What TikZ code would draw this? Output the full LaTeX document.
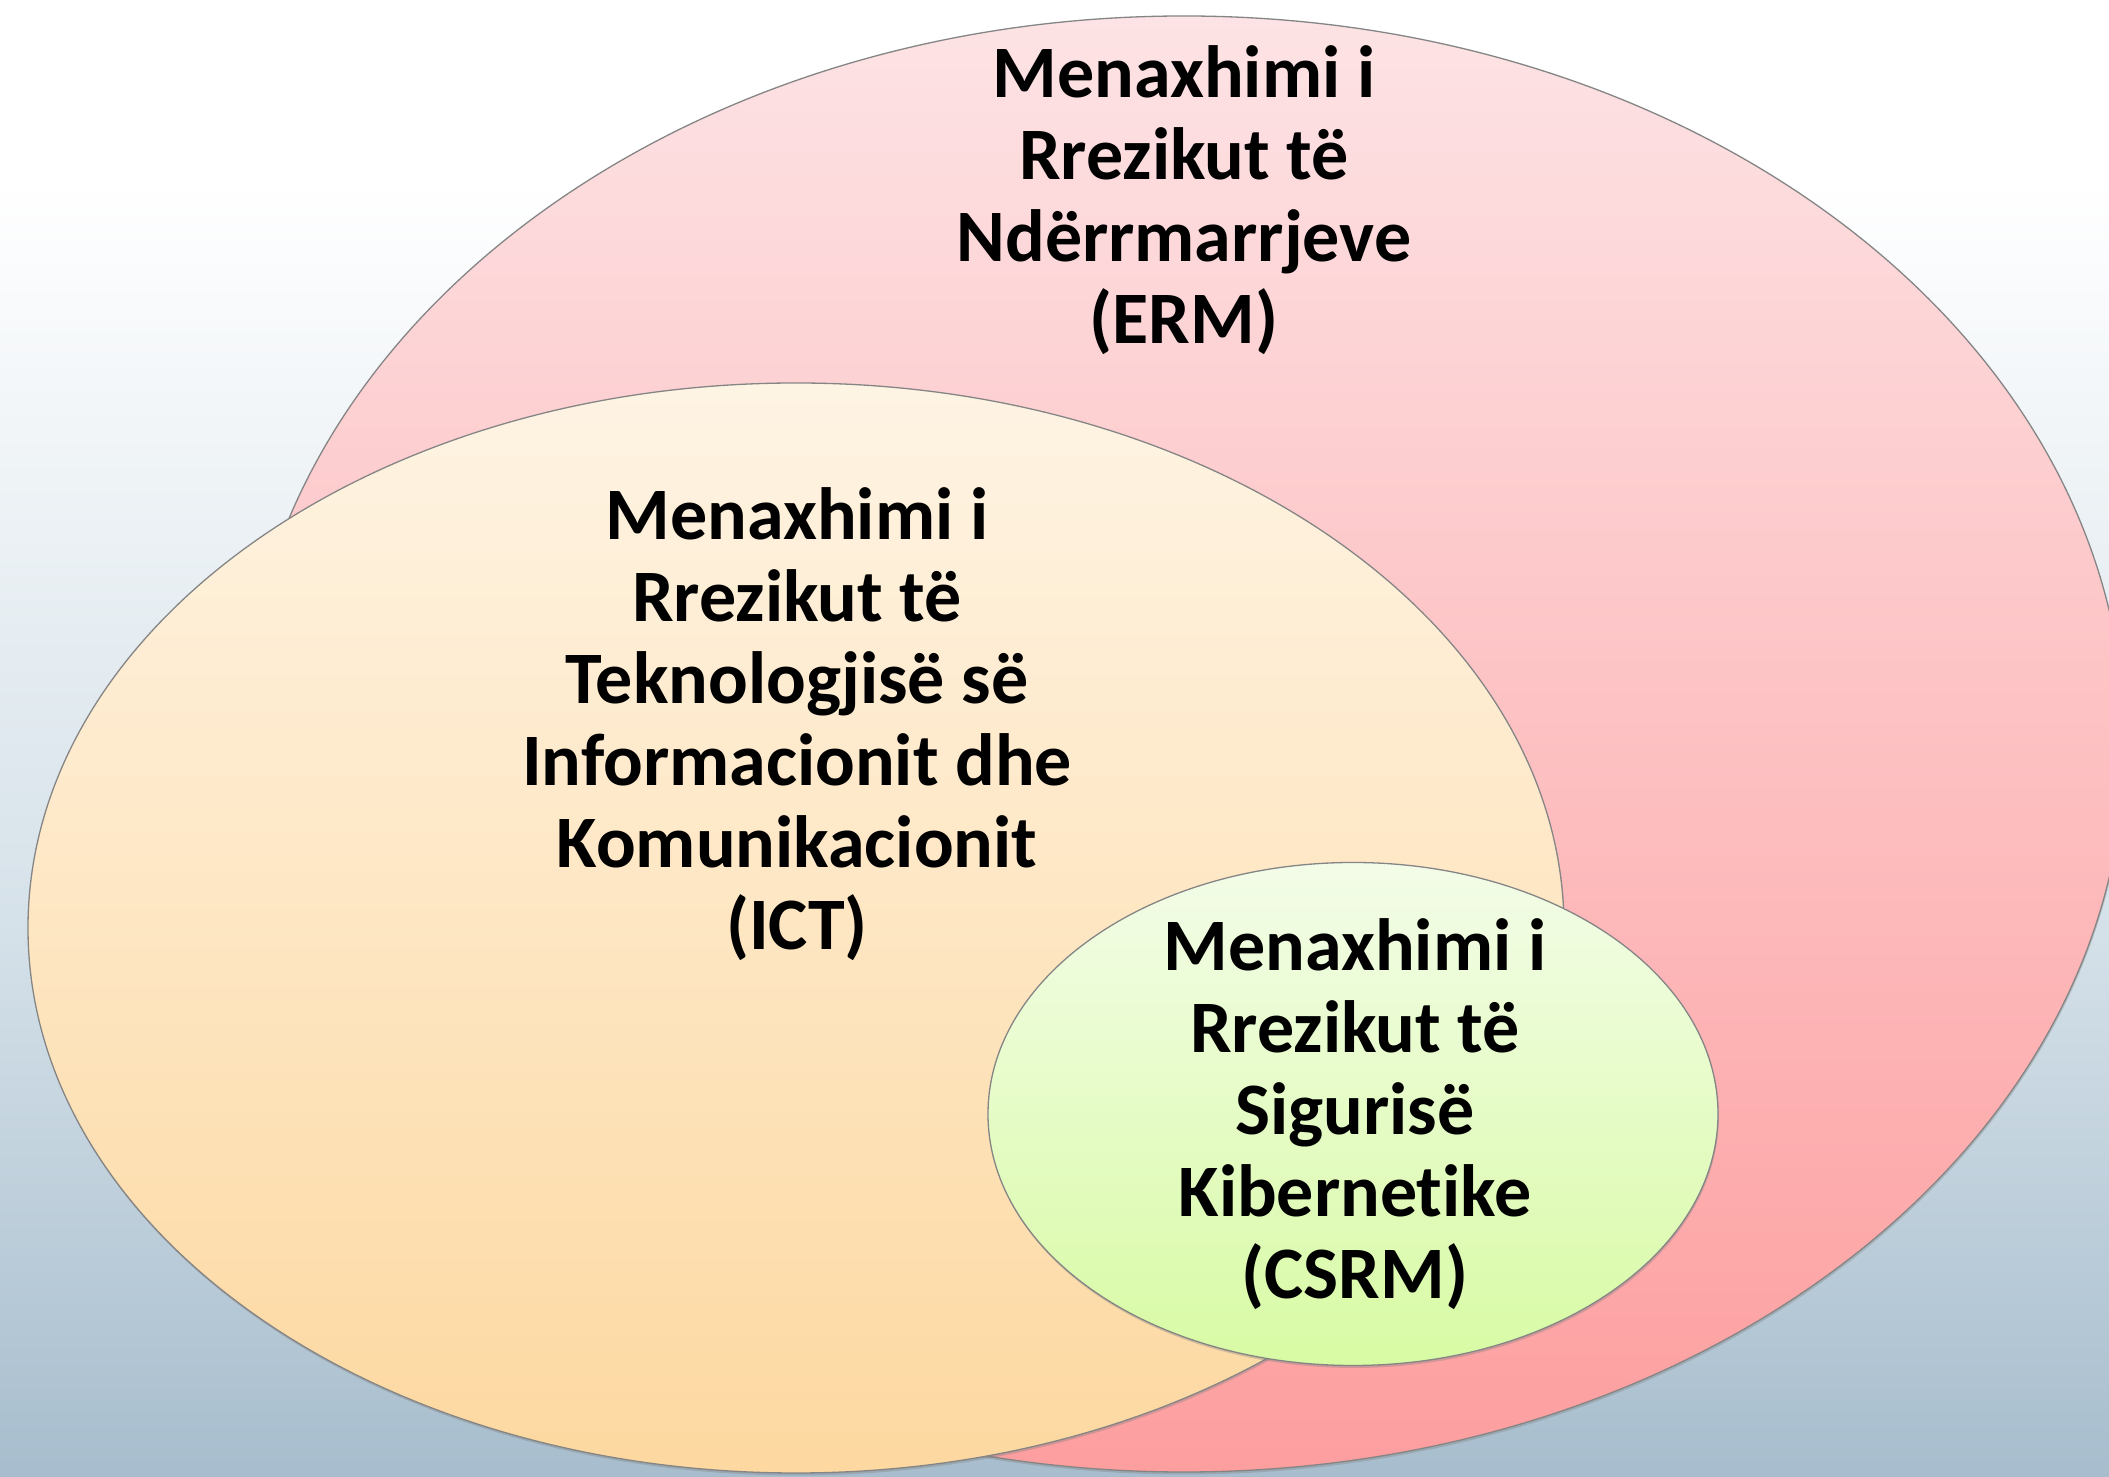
\documentclass[tikz,border=0pt]{standalone}
\usepackage{fontspec}
\setmainfont{Carlito}[Ligatures={NoCommon}]
\usetikzlibrary{shapes.geometric,shadows}
\definecolor{bgmid}{HTML}{D5E1E9}
\definecolor{bgbot}{HTML}{A7BDCD}
\definecolor{ermtop}{HTML}{FDE3E5}
\definecolor{ermbot}{HTML}{FD9E9F}
\definecolor{icttop}{HTML}{FEF4E4}
\definecolor{ictbot}{HTML}{FDD8A0}
\definecolor{csrmtop}{HTML}{F3FCE8}
\definecolor{csrmbot}{HTML}{D8FBA4}
\definecolor{rim}{HTML}{858585}
\begin{document}
\begin{tikzpicture}[x=1pt,y=1pt,
  setel/.style={ellipse, draw=rim, line width=1.3pt, inner sep=0pt, outer sep=0pt,
    drop shadow={shadow xshift=0.8pt, shadow yshift=-2.5pt, opacity=0.35}},
  lbl/.style={align=center, font=\fontsize{74}{82}\selectfont\bfseries, text=black, inner sep=0pt}]
\useasboundingbox (0,0) rectangle (2109,1477);
\clip (0,0) rectangle (2109,1477);
% background
\fill[white] (0,1297) rectangle (2109,1477);
\shade[top color=white, bottom color=bgmid] (0,547) rectangle (2109,1297.5);
\shade[top color=bgmid, bottom color=bgbot] (0,-1) rectangle (2109,547.5);
% sets
\node[setel, top color=ermtop, bottom color=ermbot, minimum width=1882pt, minimum height=1456pt] (erm) at (1184,733) {};
\node[setel, top color=icttop, bottom color=ictbot, minimum width=1536pt, minimum height=1090pt] (ict) at (796,549) {};
\node[setel, top color=csrmtop, bottom color=csrmbot, minimum width=730pt, minimum height=503pt] (csrm) at (1353,363) {};
% labels
\node[lbl] (ermlbl) at (1184,1277) {Menaxhimi i\\Rrezikut të\\Ndërrmarrjeve\\(ERM)};
\node[lbl] (ictlbl) at (797,753) {Menaxhimi i\\Rrezikut të\\Teknologjisë së\\Informacionit dhe\\Komunikacionit\\(ICT)};
\node[lbl] (csrmlbl) at (1355,363) {Menaxhimi i\\Rrezikut të\\Sigurisë\\Kibernet\kern0pt ike\\(CSRM)};
\end{tikzpicture}
\end{document}
